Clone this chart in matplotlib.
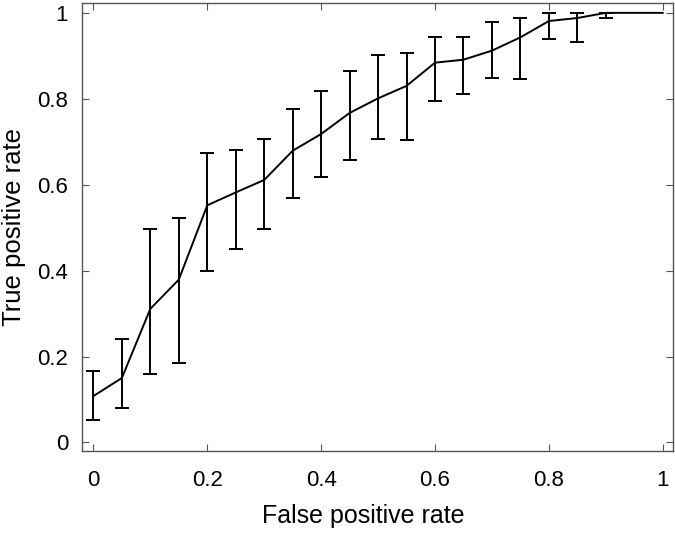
import matplotlib
matplotlib.use('Agg')
import matplotlib.pyplot as plt

# ROC curve with error bars (mean, upper, lower)
fpr = [0, 0.05, 0.1, 0.15, 0.2, 0.25, 0.3, 0.35, 0.4, 0.45, 0.5,
       0.55, 0.6, 0.65, 0.7, 0.75, 0.8, 0.85, 0.9, 0.95, 1.0]
tpr = [0.108, 0.150, 0.311, 0.379, 0.552, 0.582, 0.611, 0.679, 0.718, 0.767, 0.801,
       0.830, 0.884, 0.891, 0.912, 0.943, 0.981, 0.988, 1.0, 1.0, 1.0]
upper = [0.166, 0.240, 0.498, 0.523, 0.674, 0.681, 0.707, 0.777, 0.817, 0.865, 0.902,
         0.906, 0.943, 0.944, 0.979, 0.988, 1.0, 1.0, 1.0, 1.0, 1.0]
lower = [0.053, 0.080, 0.159, 0.186, 0.398, 0.450, 0.496, 0.570, 0.619, 0.657, 0.706,
         0.704, 0.795, 0.812, 0.849, 0.847, 0.939, 0.932, 0.988, 1.0, 1.0]


def main():
    plt.rcParams['font.family'] = ['Liberation Sans', 'DejaVu Sans']

    fig = plt.figure(figsize=(6.75, 5.33), dpi=100)
    ax = fig.add_axes([0.1215, 0.1538, 0.8755, 0.8406])

    # only the points that have a real spread get error bars
    n = 19
    yerr = [[tpr[i] - lower[i] for i in range(n)],
            [upper[i] - tpr[i] for i in range(n)]]
    ax.plot(fpr, tpr, color='black', lw=1.4)
    ax.errorbar(fpr[:n], tpr[:n], yerr=yerr, fmt='none', ecolor='black',
                elinewidth=1.4, capsize=5, capthick=1.4)

    ax.set_xlim(-0.02, 1.018)
    ax.set_ylim(-0.02, 1.023)
    ax.set_xticks([0, 0.2, 0.4, 0.6, 0.8, 1])
    ax.set_xticklabels(['0', '0.2', '0.4', '0.6', '0.8', '1'])
    ax.set_yticks([0, 0.2, 0.4, 0.6, 0.8, 1])
    ax.set_yticklabels(['0', '0.2', '0.4', '0.6', '0.8', '1'])

    for s in ax.spines.values():
        s.set_color('#555555')
        s.set_linewidth(1.0)
    ax.tick_params(direction='in', length=5, width=0.8, color='#555555',
                   top=True, right=True, labelsize=16)
    ax.tick_params(axis='x', pad=14)
    ax.tick_params(axis='y', pad=10)

    ax.set_xlabel('False positive rate', fontsize=18)
    ax.xaxis.set_label_coords(0.476, -0.118)
    ax.set_ylabel('True positive rate', fontsize=18.5, labelpad=8)

    fig.savefig('out.png', dpi=100)


if __name__ == "__main__":
    main()
